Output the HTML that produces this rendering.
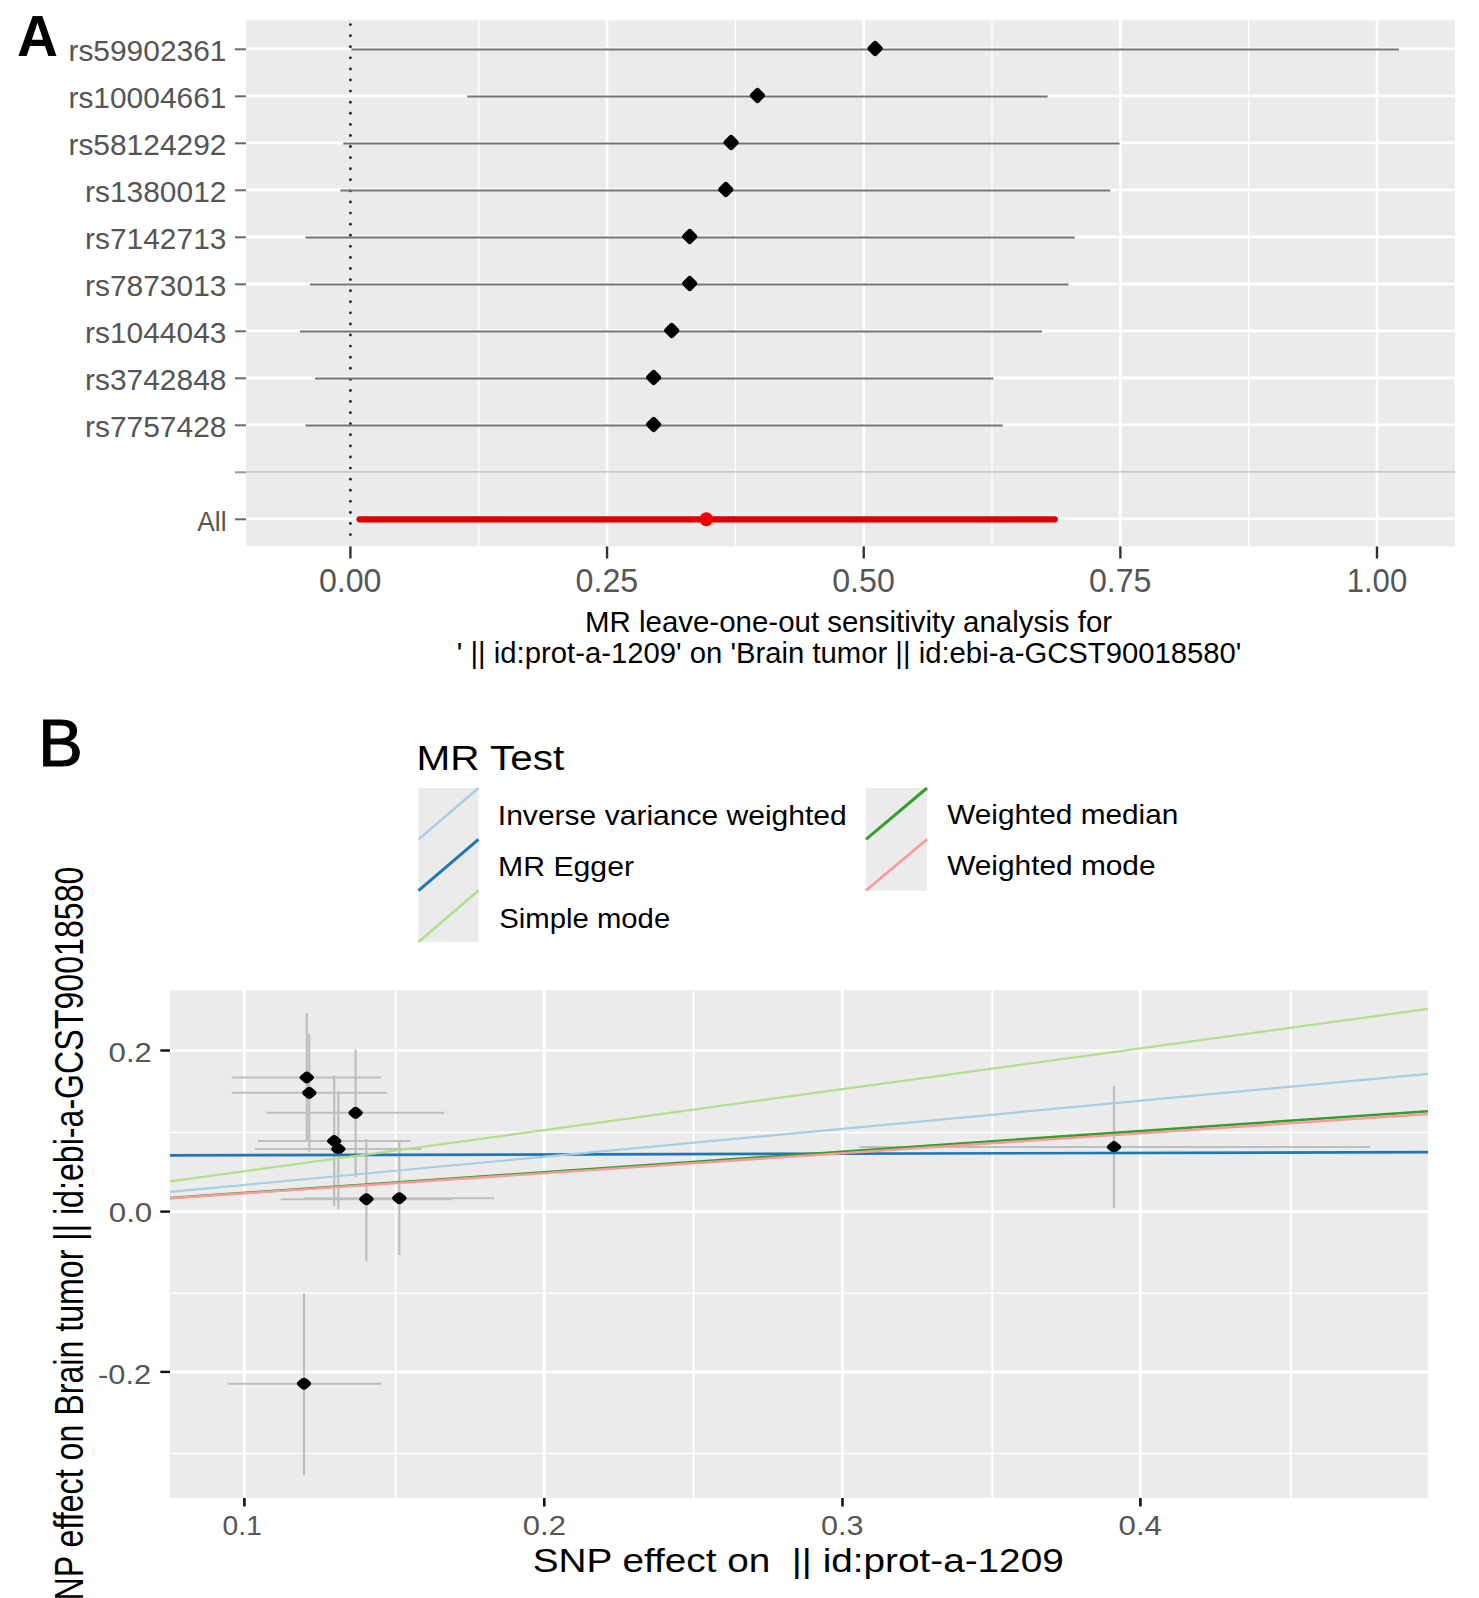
<!DOCTYPE html>
<html><head><meta charset="utf-8"><title>MR plots</title>
<style>
html,body{margin:0;padding:0;background:#fff;width:1479px;height:1598px;overflow:hidden}
svg{display:block}
text{font-family:"Liberation Sans", sans-serif}
</style></head><body>
<svg width="1479" height="1598" viewBox="0 0 1479 1598">
<rect width="1479" height="1598" fill="#fff"/>
<rect x="246" y="20.3" width="1209" height="526.1" fill="#ebebeb"/>
<line x1="478.72" y1="20.30" x2="478.72" y2="546.40" stroke="#fff" stroke-width="1.3" />
<line x1="735.38" y1="20.30" x2="735.38" y2="546.40" stroke="#fff" stroke-width="1.3" />
<line x1="992.02" y1="20.30" x2="992.02" y2="546.40" stroke="#fff" stroke-width="1.3" />
<line x1="1248.67" y1="20.30" x2="1248.67" y2="546.40" stroke="#fff" stroke-width="1.3" />
<line x1="607.05" y1="20.30" x2="607.05" y2="546.40" stroke="#fff" stroke-width="2.6" />
<line x1="863.70" y1="20.30" x2="863.70" y2="546.40" stroke="#fff" stroke-width="2.6" />
<line x1="1120.35" y1="20.30" x2="1120.35" y2="546.40" stroke="#fff" stroke-width="2.6" />
<line x1="1377.00" y1="20.30" x2="1377.00" y2="546.40" stroke="#fff" stroke-width="2.6" />
<line x1="246.00" y1="48.90" x2="1455.00" y2="48.90" stroke="#fff" stroke-width="2.8" />
<line x1="246.00" y1="95.90" x2="1455.00" y2="95.90" stroke="#fff" stroke-width="2.8" />
<line x1="246.00" y1="142.90" x2="1455.00" y2="142.90" stroke="#fff" stroke-width="2.8" />
<line x1="246.00" y1="189.90" x2="1455.00" y2="189.90" stroke="#fff" stroke-width="2.8" />
<line x1="246.00" y1="236.90" x2="1455.00" y2="236.90" stroke="#fff" stroke-width="2.8" />
<line x1="246.00" y1="283.90" x2="1455.00" y2="283.90" stroke="#fff" stroke-width="2.8" />
<line x1="246.00" y1="330.90" x2="1455.00" y2="330.90" stroke="#fff" stroke-width="2.8" />
<line x1="246.00" y1="377.90" x2="1455.00" y2="377.90" stroke="#fff" stroke-width="2.8" />
<line x1="246.00" y1="424.90" x2="1455.00" y2="424.90" stroke="#fff" stroke-width="2.8" />
<line x1="246.00" y1="518.90" x2="1455.00" y2="518.90" stroke="#fff" stroke-width="2.8" />
<line x1="246.00" y1="471.80" x2="1455.00" y2="471.80" stroke="#cbcbcb" stroke-width="1.7" />
<circle cx="350.40" cy="24.60" r="1.45" fill="#2a2a2a"/>
<circle cx="350.40" cy="35.69" r="1.45" fill="#2a2a2a"/>
<circle cx="350.40" cy="46.77" r="1.45" fill="#2a2a2a"/>
<circle cx="350.40" cy="57.86" r="1.45" fill="#2a2a2a"/>
<circle cx="350.40" cy="68.95" r="1.45" fill="#2a2a2a"/>
<circle cx="350.40" cy="80.04" r="1.45" fill="#2a2a2a"/>
<circle cx="350.40" cy="91.12" r="1.45" fill="#2a2a2a"/>
<circle cx="350.40" cy="102.21" r="1.45" fill="#2a2a2a"/>
<circle cx="350.40" cy="113.30" r="1.45" fill="#2a2a2a"/>
<circle cx="350.40" cy="124.38" r="1.45" fill="#2a2a2a"/>
<circle cx="350.40" cy="135.47" r="1.45" fill="#2a2a2a"/>
<circle cx="350.40" cy="146.56" r="1.45" fill="#2a2a2a"/>
<circle cx="350.40" cy="157.64" r="1.45" fill="#2a2a2a"/>
<circle cx="350.40" cy="168.73" r="1.45" fill="#2a2a2a"/>
<circle cx="350.40" cy="179.82" r="1.45" fill="#2a2a2a"/>
<circle cx="350.40" cy="190.90" r="1.45" fill="#2a2a2a"/>
<circle cx="350.40" cy="201.99" r="1.45" fill="#2a2a2a"/>
<circle cx="350.40" cy="213.08" r="1.45" fill="#2a2a2a"/>
<circle cx="350.40" cy="224.17" r="1.45" fill="#2a2a2a"/>
<circle cx="350.40" cy="235.25" r="1.45" fill="#2a2a2a"/>
<circle cx="350.40" cy="246.34" r="1.45" fill="#2a2a2a"/>
<circle cx="350.40" cy="257.43" r="1.45" fill="#2a2a2a"/>
<circle cx="350.40" cy="268.51" r="1.45" fill="#2a2a2a"/>
<circle cx="350.40" cy="279.60" r="1.45" fill="#2a2a2a"/>
<circle cx="350.40" cy="290.69" r="1.45" fill="#2a2a2a"/>
<circle cx="350.40" cy="301.77" r="1.45" fill="#2a2a2a"/>
<circle cx="350.40" cy="312.86" r="1.45" fill="#2a2a2a"/>
<circle cx="350.40" cy="323.95" r="1.45" fill="#2a2a2a"/>
<circle cx="350.40" cy="335.04" r="1.45" fill="#2a2a2a"/>
<circle cx="350.40" cy="346.12" r="1.45" fill="#2a2a2a"/>
<circle cx="350.40" cy="357.21" r="1.45" fill="#2a2a2a"/>
<circle cx="350.40" cy="368.30" r="1.45" fill="#2a2a2a"/>
<circle cx="350.40" cy="379.38" r="1.45" fill="#2a2a2a"/>
<circle cx="350.40" cy="390.47" r="1.45" fill="#2a2a2a"/>
<circle cx="350.40" cy="401.56" r="1.45" fill="#2a2a2a"/>
<circle cx="350.40" cy="412.64" r="1.45" fill="#2a2a2a"/>
<circle cx="350.40" cy="423.73" r="1.45" fill="#2a2a2a"/>
<circle cx="350.40" cy="434.82" r="1.45" fill="#2a2a2a"/>
<circle cx="350.40" cy="445.91" r="1.45" fill="#2a2a2a"/>
<circle cx="350.40" cy="456.99" r="1.45" fill="#2a2a2a"/>
<circle cx="350.40" cy="468.08" r="1.45" fill="#2a2a2a"/>
<circle cx="350.40" cy="479.17" r="1.45" fill="#2a2a2a"/>
<circle cx="350.40" cy="490.25" r="1.45" fill="#2a2a2a"/>
<circle cx="350.40" cy="501.34" r="1.45" fill="#2a2a2a"/>
<circle cx="350.40" cy="512.43" r="1.45" fill="#2a2a2a"/>
<circle cx="350.40" cy="523.51" r="1.45" fill="#2a2a2a"/>
<circle cx="350.40" cy="534.60" r="1.45" fill="#2a2a2a"/>
<line x1="351.40" y1="49.60" x2="1399.00" y2="49.60" stroke="#747474" stroke-width="2.0" />
<rect x="-6.12" y="-6.12" width="12.25" height="12.25" rx="2.8" fill="#000" transform="translate(875.10 48.50) scale(1 1.013) rotate(45)"/>
<line x1="467.40" y1="96.60" x2="1047.60" y2="96.60" stroke="#747474" stroke-width="2.0" />
<rect x="-6.12" y="-6.12" width="12.25" height="12.25" rx="2.8" fill="#000" transform="translate(757.40 95.50) scale(1 1.013) rotate(45)"/>
<line x1="343.30" y1="143.60" x2="1119.50" y2="143.60" stroke="#747474" stroke-width="2.0" />
<rect x="-6.12" y="-6.12" width="12.25" height="12.25" rx="2.8" fill="#000" transform="translate(731.10 142.50) scale(1 1.013) rotate(45)"/>
<line x1="340.40" y1="190.60" x2="1110.20" y2="190.60" stroke="#747474" stroke-width="2.0" />
<rect x="-6.12" y="-6.12" width="12.25" height="12.25" rx="2.8" fill="#000" transform="translate(725.80 189.50) scale(1 1.013) rotate(45)"/>
<line x1="305.50" y1="237.60" x2="1074.70" y2="237.60" stroke="#747474" stroke-width="2.0" />
<rect x="-6.12" y="-6.12" width="12.25" height="12.25" rx="2.8" fill="#000" transform="translate(689.70 236.50) scale(1 1.013) rotate(45)"/>
<line x1="310.00" y1="284.60" x2="1068.40" y2="284.60" stroke="#747474" stroke-width="2.0" />
<rect x="-6.12" y="-6.12" width="12.25" height="12.25" rx="2.8" fill="#000" transform="translate(689.70 283.50) scale(1 1.013) rotate(45)"/>
<line x1="300.00" y1="331.60" x2="1041.90" y2="331.60" stroke="#747474" stroke-width="2.0" />
<rect x="-6.12" y="-6.12" width="12.25" height="12.25" rx="2.8" fill="#000" transform="translate(671.70 330.50) scale(1 1.013) rotate(45)"/>
<line x1="315.10" y1="378.60" x2="993.30" y2="378.60" stroke="#747474" stroke-width="2.0" />
<rect x="-6.12" y="-6.12" width="12.25" height="12.25" rx="2.8" fill="#000" transform="translate(653.60 377.50) scale(1 1.013) rotate(45)"/>
<line x1="305.50" y1="425.60" x2="1002.60" y2="425.60" stroke="#747474" stroke-width="2.0" />
<rect x="-6.12" y="-6.12" width="12.25" height="12.25" rx="2.8" fill="#000" transform="translate(653.60 424.50) scale(1 1.013) rotate(45)"/>
<line x1="359.50" y1="519.30" x2="1054.80" y2="519.30" stroke="#e00000" stroke-width="6.2" stroke-linecap="round"/>
<ellipse cx="706.3" cy="519.30" rx="6.6" ry="7.0" fill="#f00000"/>
<line x1="235.00" y1="49.30" x2="246.00" y2="49.30" stroke="#6a6a6a" stroke-width="2" />
<line x1="235.00" y1="96.30" x2="246.00" y2="96.30" stroke="#6a6a6a" stroke-width="2" />
<line x1="235.00" y1="143.30" x2="246.00" y2="143.30" stroke="#6a6a6a" stroke-width="2" />
<line x1="235.00" y1="190.30" x2="246.00" y2="190.30" stroke="#6a6a6a" stroke-width="2" />
<line x1="235.00" y1="237.30" x2="246.00" y2="237.30" stroke="#6a6a6a" stroke-width="2" />
<line x1="235.00" y1="284.30" x2="246.00" y2="284.30" stroke="#6a6a6a" stroke-width="2" />
<line x1="235.00" y1="331.30" x2="246.00" y2="331.30" stroke="#6a6a6a" stroke-width="2" />
<line x1="235.00" y1="378.30" x2="246.00" y2="378.30" stroke="#6a6a6a" stroke-width="2" />
<line x1="235.00" y1="425.30" x2="246.00" y2="425.30" stroke="#6a6a6a" stroke-width="2" />
<line x1="235.00" y1="472.30" x2="246.00" y2="472.30" stroke="#999" stroke-width="2" />
<line x1="235.00" y1="519.30" x2="246.00" y2="519.30" stroke="#6a6a6a" stroke-width="2" />
<text x="68.46" y="60.80" font-size="29.9" fill="#555555" font-weight="normal" textLength="157.94" lengthAdjust="spacingAndGlyphs" >rs59902361</text>
<text x="68.46" y="107.80" font-size="29.9" fill="#555555" font-weight="normal" textLength="157.94" lengthAdjust="spacingAndGlyphs" >rs10004661</text>
<text x="68.46" y="154.80" font-size="29.9" fill="#555555" font-weight="normal" textLength="157.94" lengthAdjust="spacingAndGlyphs" >rs58124292</text>
<text x="85.09" y="201.80" font-size="29.9" fill="#555555" font-weight="normal" textLength="141.31" lengthAdjust="spacingAndGlyphs" >rs1380012</text>
<text x="85.09" y="248.80" font-size="29.9" fill="#555555" font-weight="normal" textLength="141.31" lengthAdjust="spacingAndGlyphs" >rs7142713</text>
<text x="85.09" y="295.80" font-size="29.9" fill="#555555" font-weight="normal" textLength="141.31" lengthAdjust="spacingAndGlyphs" >rs7873013</text>
<text x="85.09" y="342.80" font-size="29.9" fill="#555555" font-weight="normal" textLength="141.31" lengthAdjust="spacingAndGlyphs" >rs1044043</text>
<text x="85.09" y="389.80" font-size="29.9" fill="#555555" font-weight="normal" textLength="141.31" lengthAdjust="spacingAndGlyphs" >rs3742848</text>
<text x="85.09" y="436.80" font-size="29.9" fill="#555555" font-weight="normal" textLength="141.31" lengthAdjust="spacingAndGlyphs" >rs7757428</text>
<text x="197.35" y="530.80" font-size="28.5" fill="#555555" font-weight="normal" textLength="29.21" lengthAdjust="spacingAndGlyphs" >All</text>
<line x1="350.40" y1="546.40" x2="350.40" y2="558.50" stroke="#333" stroke-width="2.4" />
<text x="318.89" y="592.40" font-size="33" fill="#555555" font-weight="normal" textLength="62.62" lengthAdjust="spacingAndGlyphs" >0.00</text>
<line x1="607.05" y1="546.40" x2="607.05" y2="558.50" stroke="#333" stroke-width="2.4" />
<text x="575.59" y="592.40" font-size="33" fill="#555555" font-weight="normal" textLength="62.62" lengthAdjust="spacingAndGlyphs" >0.25</text>
<line x1="863.70" y1="546.40" x2="863.70" y2="558.50" stroke="#333" stroke-width="2.4" />
<text x="832.19" y="592.40" font-size="33" fill="#555555" font-weight="normal" textLength="62.62" lengthAdjust="spacingAndGlyphs" >0.50</text>
<line x1="1120.35" y1="546.40" x2="1120.35" y2="558.50" stroke="#333" stroke-width="2.4" />
<text x="1088.89" y="592.40" font-size="33" fill="#555555" font-weight="normal" textLength="62.62" lengthAdjust="spacingAndGlyphs" >0.75</text>
<line x1="1377.00" y1="546.40" x2="1377.00" y2="558.50" stroke="#333" stroke-width="2.4" />
<text x="1346.63" y="592.40" font-size="33" fill="#555555" font-weight="normal" textLength="60.59" lengthAdjust="spacingAndGlyphs" >1.00</text>
<text x="584.98" y="631.80" font-size="28.8" fill="#000" font-weight="normal" textLength="527.11" lengthAdjust="spacingAndGlyphs" >MR leave-one-out sensitivity analysis for</text>
<text x="456.81" y="662.50" font-size="28.8" fill="#000" font-weight="normal" textLength="784.66" lengthAdjust="spacingAndGlyphs" >' || id:prot-a-1209' on 'Brain tumor || id:ebi-a-GCST90018580'</text>
<text x="16.99" y="56.20" font-size="58" fill="#000" font-weight="bold" textLength="41.01" lengthAdjust="spacingAndGlyphs" >A</text>
<rect x="170" y="990.2" width="1258" height="507.79999999999995" fill="#ebebeb"/>
<line x1="395.60" y1="990.20" x2="395.60" y2="1498.00" stroke="#fff" stroke-width="1.9" />
<line x1="693.50" y1="990.20" x2="693.50" y2="1498.00" stroke="#fff" stroke-width="1.9" />
<line x1="992.30" y1="990.20" x2="992.30" y2="1498.00" stroke="#fff" stroke-width="1.9" />
<line x1="1290.80" y1="990.20" x2="1290.80" y2="1498.00" stroke="#fff" stroke-width="1.9" />
<line x1="244.40" y1="990.20" x2="244.40" y2="1498.00" stroke="#fff" stroke-width="3.0" />
<line x1="544.30" y1="990.20" x2="544.30" y2="1498.00" stroke="#fff" stroke-width="3.0" />
<line x1="842.50" y1="990.20" x2="842.50" y2="1498.00" stroke="#fff" stroke-width="3.0" />
<line x1="1140.40" y1="990.20" x2="1140.40" y2="1498.00" stroke="#fff" stroke-width="3.0" />
<line x1="170.00" y1="1132.60" x2="1428.00" y2="1132.60" stroke="#fff" stroke-width="1.5" />
<line x1="170.00" y1="1293.30" x2="1428.00" y2="1293.30" stroke="#fff" stroke-width="1.5" />
<line x1="170.00" y1="1453.50" x2="1428.00" y2="1453.50" stroke="#fff" stroke-width="1.5" />
<line x1="170.00" y1="1050.50" x2="1428.00" y2="1050.50" stroke="#fff" stroke-width="2.6" />
<line x1="170.00" y1="1211.60" x2="1428.00" y2="1211.60" stroke="#fff" stroke-width="2.6" />
<line x1="170.00" y1="1371.90" x2="1428.00" y2="1371.90" stroke="#fff" stroke-width="2.6" />
<line x1="306.80" y1="1012.90" x2="306.80" y2="1141.00" stroke="#bebebe" stroke-width="2.2" />
<line x1="309.30" y1="1034.00" x2="309.30" y2="1151.50" stroke="#bebebe" stroke-width="2.2" />
<line x1="355.60" y1="1049.60" x2="355.60" y2="1177.40" stroke="#bebebe" stroke-width="2.2" />
<line x1="334.20" y1="1075.70" x2="334.20" y2="1206.50" stroke="#bebebe" stroke-width="2.2" />
<line x1="338.30" y1="1091.30" x2="338.30" y2="1209.10" stroke="#bebebe" stroke-width="2.2" />
<line x1="366.40" y1="1139.00" x2="366.40" y2="1261.30" stroke="#bebebe" stroke-width="2.2" />
<line x1="399.30" y1="1142.00" x2="399.30" y2="1255.00" stroke="#bebebe" stroke-width="2.2" />
<line x1="304.00" y1="1293.50" x2="304.00" y2="1475.30" stroke="#bebebe" stroke-width="2.2" />
<line x1="1114.00" y1="1086.00" x2="1114.00" y2="1208.00" stroke="#bebebe" stroke-width="2.2" />
<line x1="231.70" y1="1077.50" x2="380.90" y2="1077.50" stroke="#bebebe" stroke-width="2.0" />
<line x1="231.70" y1="1092.80" x2="387.00" y2="1092.80" stroke="#bebebe" stroke-width="2.0" />
<line x1="266.40" y1="1112.80" x2="444.30" y2="1112.80" stroke="#bebebe" stroke-width="2.0" />
<line x1="257.90" y1="1141.00" x2="411.20" y2="1141.00" stroke="#bebebe" stroke-width="2.0" />
<line x1="255.00" y1="1149.00" x2="421.60" y2="1149.00" stroke="#bebebe" stroke-width="2.0" />
<line x1="280.60" y1="1199.20" x2="451.90" y2="1199.20" stroke="#bebebe" stroke-width="2.0" />
<line x1="304.50" y1="1198.20" x2="494.30" y2="1198.20" stroke="#bebebe" stroke-width="2.0" />
<line x1="227.40" y1="1383.70" x2="381.40" y2="1383.70" stroke="#bebebe" stroke-width="2.0" />
<line x1="859.50" y1="1147.00" x2="1370.10" y2="1147.00" stroke="#bebebe" stroke-width="2.0" />
<rect x="-6.12" y="-6.12" width="12.24" height="12.24" rx="4.0" fill="#000" transform="translate(306.80 1077.50) scale(1 0.829) rotate(45)"/>
<rect x="-6.12" y="-6.12" width="12.24" height="12.24" rx="4.0" fill="#000" transform="translate(309.30 1092.80) scale(1 0.829) rotate(45)"/>
<rect x="-6.12" y="-6.12" width="12.24" height="12.24" rx="4.0" fill="#000" transform="translate(355.60 1112.80) scale(1 0.829) rotate(45)"/>
<rect x="-6.12" y="-6.12" width="12.24" height="12.24" rx="4.0" fill="#000" transform="translate(334.20 1141.00) scale(1 0.829) rotate(45)"/>
<rect x="-6.12" y="-6.12" width="12.24" height="12.24" rx="4.0" fill="#000" transform="translate(338.30 1149.00) scale(1 0.829) rotate(45)"/>
<rect x="-6.12" y="-6.12" width="12.24" height="12.24" rx="4.0" fill="#000" transform="translate(366.40 1199.20) scale(1 0.829) rotate(45)"/>
<rect x="-6.12" y="-6.12" width="12.24" height="12.24" rx="4.0" fill="#000" transform="translate(399.30 1198.20) scale(1 0.829) rotate(45)"/>
<rect x="-6.12" y="-6.12" width="12.24" height="12.24" rx="4.0" fill="#000" transform="translate(304.00 1383.70) scale(1 0.829) rotate(45)"/>
<rect x="-6.12" y="-6.12" width="12.24" height="12.24" rx="4.0" fill="#000" transform="translate(1114.00 1147.00) scale(1 0.829) rotate(45)"/>
<line x1="170.00" y1="1155.40" x2="1428.00" y2="1152.20" stroke="#1f78b4" stroke-width="2.7" />
<line x1="170.00" y1="1198.00" x2="1428.00" y2="1111.20" stroke="#33a02c" stroke-width="2.5" />
<line x1="170.00" y1="1191.90" x2="1428.00" y2="1073.80" stroke="#a6cee3" stroke-width="2.2" />
<line x1="170.00" y1="1181.40" x2="1428.00" y2="1008.90" stroke="#b2df8a" stroke-width="2.2" />
<line x1="170.00" y1="1198.30" x2="1428.00" y2="1114.00" stroke="#fb9a99" stroke-width="2.4" />
<line x1="160.30" y1="1050.50" x2="170.00" y2="1050.50" stroke="#111" stroke-width="2.4" />
<line x1="160.30" y1="1211.60" x2="170.00" y2="1211.60" stroke="#111" stroke-width="2.4" />
<line x1="160.30" y1="1371.90" x2="170.00" y2="1371.90" stroke="#111" stroke-width="2.4" />
<line x1="244.40" y1="1498.00" x2="244.40" y2="1506.50" stroke="#111" stroke-width="2.6" />
<line x1="544.30" y1="1498.00" x2="544.30" y2="1506.50" stroke="#111" stroke-width="2.6" />
<line x1="842.50" y1="1498.00" x2="842.50" y2="1506.50" stroke="#111" stroke-width="2.6" />
<line x1="1140.40" y1="1498.00" x2="1140.40" y2="1506.50" stroke="#111" stroke-width="2.6" />
<text x="108.58" y="1062.00" font-size="26.8" fill="#555555" font-weight="normal" textLength="43.28" lengthAdjust="spacingAndGlyphs" >0.2</text>
<text x="108.78" y="1221.90" font-size="26.8" fill="#555555" font-weight="normal" textLength="43.44" lengthAdjust="spacingAndGlyphs" >0.0</text>
<text x="98.03" y="1383.50" font-size="26.8" fill="#555555" font-weight="normal" textLength="53.12" lengthAdjust="spacingAndGlyphs" >-0.2</text>
<text x="222.60" y="1534.50" font-size="26.8" fill="#555555" font-weight="normal" textLength="39.28" lengthAdjust="spacingAndGlyphs" >0.1</text>
<text x="522.79" y="1534.50" font-size="26.8" fill="#555555" font-weight="normal" textLength="43.18" lengthAdjust="spacingAndGlyphs" >0.2</text>
<text x="821.11" y="1534.50" font-size="26.8" fill="#555555" font-weight="normal" textLength="42.43" lengthAdjust="spacingAndGlyphs" >0.3</text>
<text x="1118.58" y="1534.50" font-size="26.8" fill="#555555" font-weight="normal" textLength="43.33" lengthAdjust="spacingAndGlyphs" >0.4</text>
<text xml:space="preserve" x="532.75" y="1572.00" font-size="32.9" fill="#000" font-weight="normal" textLength="530.98" lengthAdjust="spacingAndGlyphs" >SNP effect on  || id:prot-a-1209</text>
<text transform="translate(83.2 1621.90) rotate(-90)" x="0" y="0" font-size="41.4" fill="#000" textLength="755.35" lengthAdjust="spacingAndGlyphs">SNP effect on Brain tumor || id:ebi-a-GCST90018580</text>
<text x="416.49" y="770.00" font-size="34.2" fill="#000" font-weight="normal" textLength="147.80" lengthAdjust="spacingAndGlyphs" >MR Test</text>
<rect x="418.5" y="788.0" width="60.0" height="153.90" fill="#ebebeb"/>
<line x1="418.50" y1="839.30" x2="478.50" y2="788.00" stroke="#a6cee3" stroke-width="2.4" />
<text x="497.83" y="824.60" font-size="28.0" fill="#000" font-weight="normal" textLength="348.91" lengthAdjust="spacingAndGlyphs" >Inverse variance weighted</text>
<line x1="418.50" y1="890.60" x2="478.50" y2="839.30" stroke="#1f78b4" stroke-width="3.0" />
<text x="498.12" y="876.10" font-size="28.0" fill="#000" font-weight="normal" textLength="135.88" lengthAdjust="spacingAndGlyphs" >MR Egger</text>
<line x1="418.50" y1="941.90" x2="478.50" y2="890.60" stroke="#b2df8a" stroke-width="2.6" />
<text x="499.27" y="927.60" font-size="28.0" fill="#000" font-weight="normal" textLength="170.93" lengthAdjust="spacingAndGlyphs" >Simple mode</text>
<rect x="866.0" y="788.0" width="61.0" height="102.60" fill="#ebebeb"/>
<line x1="866.00" y1="839.30" x2="927.00" y2="788.00" stroke="#33a02c" stroke-width="3.0" />
<text x="947.17" y="824.30" font-size="28.0" fill="#000" font-weight="normal" textLength="231.16" lengthAdjust="spacingAndGlyphs" >Weighted median</text>
<line x1="866.00" y1="890.60" x2="927.00" y2="839.30" stroke="#fb9a99" stroke-width="2.6" />
<text x="947.17" y="875.40" font-size="28.0" fill="#000" font-weight="normal" textLength="208.35" lengthAdjust="spacingAndGlyphs" >Weighted mode</text>
<text x="38.33" y="766.30" font-size="67.5" fill="#000" font-weight="normal" textLength="44.49" lengthAdjust="spacingAndGlyphs" stroke="#000" stroke-width="1.2">B</text>
</svg>
</body></html>
